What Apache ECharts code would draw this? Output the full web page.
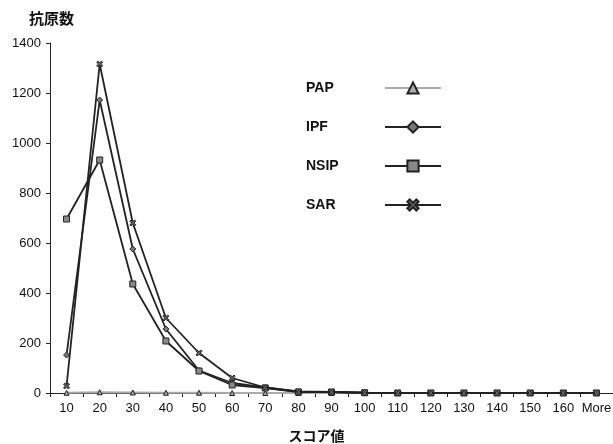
<!DOCTYPE html>
<html>
<head>
<meta charset="utf-8">
<script src="https://cdn.jsdelivr.net/npm/echarts@6/dist/echarts.min.js"></script>
<style>html,body{margin:0;padding:0;background:#fff}#c{width:613px;height:444px}</style>
</head>
<body>
<div id="c"></div>
<script>
var categories = ['10','20','30','40','50','60','70','80','90','100','110','120','130','140','150','160','More'];
var pap  = [1, 3, 2, 1, 1, 0, 0, 0, 0, 0, 0, 0, 0, 0, 0, 0, 0];
var ipf  = [152, 1172, 576, 256, 90, 40, 22, 5, 4, 1, 0, 0, 0, 0, 0, 0, 0];
var nsip = [696, 932, 436, 208, 88, 32, 20, 4, 4, 1, 0, 0, 0, 0, 0, 0, 0];
var sar  = [28, 1316, 680, 300, 160, 60, 22, 6, 4, 1, 0, 0, 0, 0, 0, 0, 0];
var yTicks = [0, 200, 400, 600, 800, 1000, 1200, 1400];

var font = '"Liberation Sans", Arial, sans-serif';
var xSym = 'path://M0,2 L2,0 L5,3 L8,0 L10,2 L7,5 L10,8 L8,10 L5,7 L2,10 L0,8 L3,5 Z';

function mk(name, data, symbol, size, lineColor, markColor, z) {
  return {
    name: name, type: 'line', data: data, symbol: symbol, symbolSize: size,
    showAllSymbol: true, z: z,
    lineStyle: { color: lineColor, width: 1.8 },
    itemStyle: { color: markColor, borderColor: '#222', borderWidth: 1 },
    emphasis: { disabled: true }
  };
}

var chart = echarts.init(document.getElementById('c'), null, { renderer: 'canvas' });
chart.setOption({
  animation: false,
  backgroundColor: '#fff',
  textStyle: { fontFamily: font },
  grid: { left: 50, right: 0, top: 43, bottom: 51, containLabel: false, outerBoundsMode: 'none' },
  legend: {
    orient: 'vertical', left: 306, top: 81, align: 'right', padding: 0,
    itemWidth: 56, itemHeight: 14, itemGap: 25,
    formatter: '{a|{name}}',
    textStyle: {
      rich: { a: { fontFamily: font, fontWeight: 'bold', fontSize: 14, color: '#111', width: 74, align: 'left' } }
    },
    data: ['PAP', 'IPF', 'NSIP', 'SAR']
  },
  xAxis: {
    type: 'category', data: categories, boundaryGap: true,
    name: 'スコア値', nameLocation: 'middle', nameGap: 36,
    nameTextStyle: { fontFamily: '"Noto Sans CJK JP", sans-serif', fontWeight: 'bold', fontSize: 14, color: '#111', padding: [0, 30, 0, 0] },
    axisLine: { lineStyle: { color: '#222', width: 1 } },
    axisTick: { show: true, length: 4, lineStyle: { color: '#222' } },
    axisLabel: { fontFamily: font, fontSize: 13, color: '#111', margin: 9, interval: 0 },
    splitLine: { show: false }
  },
  yAxis: {
    type: 'value', min: yTicks[0], max: yTicks[yTicks.length - 1], interval: 200,
    name: '抗原数', nameLocation: 'end', nameGap: 17,
    nameTextStyle: { fontFamily: '"Noto Sans CJK JP", sans-serif', fontWeight: 'bold', fontSize: 15, color: '#111', align: 'right', padding: [0, -24, 0, 0] },
    axisLine: { show: true, lineStyle: { color: '#222', width: 1 } },
    axisTick: { show: true, length: 4, lineStyle: { color: '#222' } },
    axisLabel: { fontFamily: font, fontSize: 13, color: '#111', margin: 9, formatter: function (v) { return String(v); } },
    splitLine: { show: false }
  },
  series: [
    mk('PAP', pap, 'triangle', 5, '#aaa', '#aaa', 2),
    mk('IPF', ipf, 'diamond', 6, '#222', '#777', 3),
    mk('NSIP', nsip, 'rect', 6, '#222', '#888', 4),
    mk('SAR', sar, xSym, 6, '#222', '#666', 5)
  ]
});
</script>
</body>
</html>
